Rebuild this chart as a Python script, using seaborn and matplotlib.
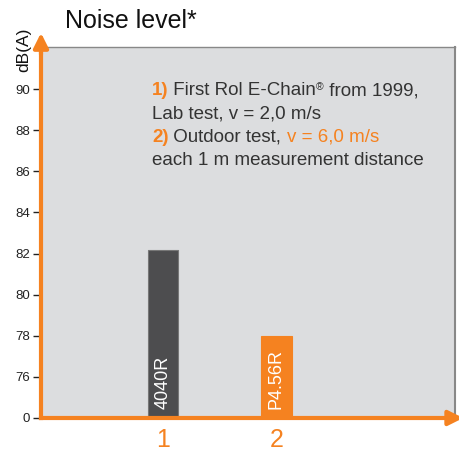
import matplotlib
matplotlib.use("Agg")
import matplotlib.pyplot as plt
import seaborn as sns
import pandas as pd
from matplotlib.offsetbox import TextArea, HPacker, VPacker, AnchoredOffsetbox

# values
positions = ['1', '2']
chains = ['4040R', 'P4.56R']
noise_db = [82.15, 78.0]
yticks = [74, 76, 78, 80, 82, 84, 86, 88, 90]
ytick_labels = ['0', '76', '78', '80', '82', '84', '86', '88', '90']

orange = '#F58220'
darkgray = '#4D4D4F'
textgray = '#333333'
bg = '#DCDDDF'

sns.set_style("white")
plt.rcParams['font.family'] = ['Liberation Sans', 'DejaVu Sans']

df = pd.DataFrame({'pos': positions, 'chain': chains, 'db': noise_db})

fig = plt.figure(figsize=(4.59, 4.53), dpi=100)
ax = fig.add_axes([0.0893, 0.0773, 0.902, 0.819])
ax.set_facecolor(bg)

sns.barplot(data=df, x='pos', y='db', hue='pos', palette=[darkgray, orange],
            width=0.27, legend=False, ax=ax, saturation=1)
for p, c in zip(ax.patches, [darkgray, orange]):
    p.set_edgecolor('#777777' if c == darkgray else orange)
    p.set_linewidth(0.8)

ax.set_ylim(74, 92.05)
ax.set_xlim(-1.08, 2.58)
ax.set_yticks(yticks)
ax.set_yticklabels(ytick_labels, fontsize=9.5, color='#222222')
ax.tick_params(axis='y', length=6, width=1, color='#222222', direction='out', pad=2, left=True)
ax.tick_params(axis='x', length=0, pad=7, labelsize=18, labelcolor=orange)
ax.set_xlabel('')
ax.set_ylabel('')

for s in ['left', 'bottom']:
    ax.spines[s].set_color(orange)
    ax.spines[s].set_linewidth(3)
ax.spines['top'].set_color('#888888')
ax.spines['top'].set_linewidth(1)
ax.spines['right'].set_color('#888888')
ax.spines['right'].set_linewidth(1.5)

# arrow heads on the axes
ax.annotate('', xy=(0, 1.038), xytext=(0, 0.98), xycoords='axes fraction',
            arrowprops=dict(arrowstyle='-|>', color=orange, lw=3, mutation_scale=22,
                            shrinkA=0, shrinkB=0), annotation_clip=False)
ax.annotate('', xy=(1.02, 0), xytext=(0.98, 0), xycoords='axes fraction',
            arrowprops=dict(arrowstyle='-|>', color=orange, lw=3, mutation_scale=22,
                            shrinkA=0, shrinkB=0), annotation_clip=False)

# labels inside the bars
for i, name in enumerate(chains):
    ax.text(i, 74.45, name, rotation=90, ha='center', va='bottom',
            color='white', fontsize=13)

fig.text(65 / 459, 1 - 28 / 453, 'Noise level*', fontsize=18, color='#111111',
         ha='left', va='baseline')
fig.text(24 / 459, 1 - 50 / 453, 'dB(A)', rotation=90, fontsize=12.5, color='#111111',
         ha='center', va='center')

fs = 13.5
def t(s, c=textgray, size=fs, weight='normal'):
    return TextArea(s, textprops=dict(color=c, fontsize=size, fontweight=weight))

line1 = HPacker(children=[t('1)', orange, weight='bold'), t(' First Rol E-Chain'),
                          t('®', size=7.5), t(' from 1999,')], align='top', pad=0, sep=0)
line2 = HPacker(children=[t('Lab test, v = 2,0 m/s')], pad=0, sep=0)
line3 = HPacker(children=[t('2)', orange, weight='bold'), t(' Outdoor test, '),
                          t('v = 6,0 m/s', orange)], align='baseline', pad=0, sep=0)
line4 = HPacker(children=[t('each 1 m measurement distance')], pad=0, sep=0)
box = VPacker(children=[line1, line2, line3, line4], align='left', pad=0, sep=4.5)
anchored = AnchoredOffsetbox(loc='upper left', child=box, frameon=False,
                             bbox_to_anchor=(152 / 459, 1 - 82 / 453),
                             bbox_transform=fig.transFigure, borderpad=0, pad=0)
ax.add_artist(anchored)

fig.savefig('out.png', dpi=100)
